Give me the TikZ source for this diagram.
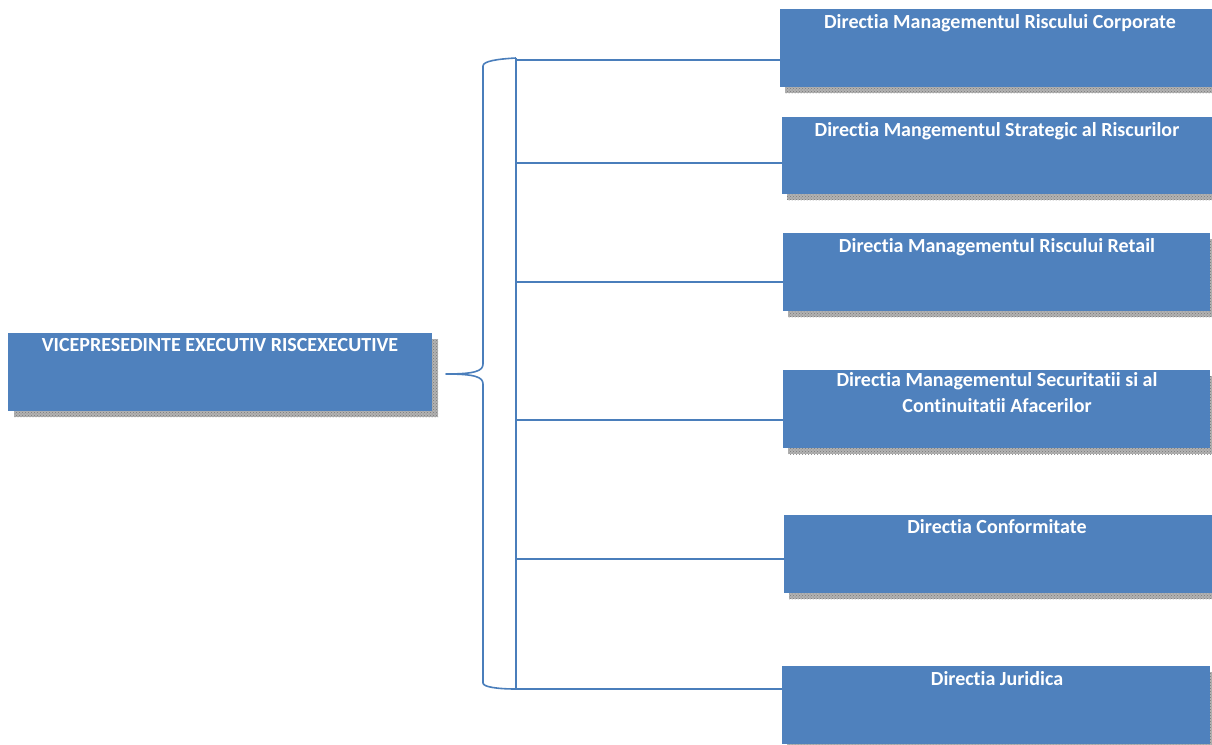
\documentclass[tikz,border=0pt]{standalone}
\usepackage{fontspec}
\setmainfont{Carlito}[Ligatures={NoCommon,NoRare,NoContextual}]
\usetikzlibrary{patterns}
\definecolor{boxblue}{HTML}{4F81BD}
\definecolor{lineblue}{HTML}{4A7EBB}
\tikzset{
  unitbox/.style={fill=boxblue, draw=none, inner sep=0pt, rectangle},
  shadowbox/.style={fill=gray!60, postaction={pattern=crosshatch dots, pattern color=gray!95!black}},
  boxtext/.style={text=white, font=\bfseries\fontsize{20}{26}\selectfont, align=center, anchor=base, inner sep=0pt},
  conn/.style={draw=lineblue, line width=1.6pt},
}
\begin{document}
\begin{tikzpicture}[x=1pt,y=-1pt]
\useasboundingbox (0,0) rectangle (1212,744);
\clip (0,0) rectangle (1212,744);
% shadows
\fill[shadowbox] (14,339) rectangle (438,417);
\fill[shadowbox] (785,15) rectangle (1218,93);
\fill[shadowbox] (787,123) rectangle (1218,200);
\fill[shadowbox] (788,239) rectangle (1212,317);
\fill[shadowbox] (788,376) rectangle (1212,454);
\fill[shadowbox] (789,521) rectangle (1218,599);
\fill[shadowbox] (787,672) rectangle (1212,750);
% boxes
\node[unitbox, minimum width=424pt, minimum height=78pt] (m) at (220,372) {};
\node[unitbox, minimum width=432pt, minimum height=78pt] (b1) at (996,48) {};
\node[unitbox, minimum width=430pt, minimum height=77pt] (b2) at (997,155.5) {};
\node[unitbox, minimum width=427pt, minimum height=78pt] (b3) at (996.5,272) {};
\node[unitbox, minimum width=427pt, minimum height=78pt] (b4) at (996.5,409) {};
\node[unitbox, minimum width=428pt, minimum height=78pt] (b5) at (998,554) {};
\node[unitbox, minimum width=428pt, minimum height=78pt] (b6) at (996,705) {};
% texts
\node[boxtext] (tm) at (220,351) {VICEPRESEDINTE EXECUTIV RISCEXECUTIVE};
\node[boxtext] (t1) at (1000,28) {Directia Managementul Riscului Corporate};
\node[boxtext] (t2) at (997,136) {Directia Mangementul Strategic al Riscurilor};
\node[boxtext] (t3) at (997,252) {Directia Managementul Riscului Retail};
\node[boxtext] (t4) at (997,412) {Directia Managementul Securitatii si al\\Continuitatii Afacerilor};
\node[boxtext] (t5) at (997,533) {Directia Conformitate};
\node[boxtext] (t6) at (997,685) {Directia Juridica};
% bus coordinates
\coordinate (top) at (516,58);
\coordinate (bot) at (516,689);
\coordinate (j1) at (516,60);
\coordinate (j2) at (516,163);
\coordinate (j3) at (516,282);
\coordinate (j4) at (516,420);
\coordinate (j5) at (516,559);
\coordinate (j6) at (516,689);
\coordinate (tip) at (446,374);
% vertical bus
\draw[conn] (top) -- (bot);
% connectors
\draw[conn] (j1) -- (j1 -| b1.west);
\draw[conn] (j2) -- (j2 -| b2.west);
\draw[conn] (j3) -- (j3 -| b3.west);
\draw[conn] (j4) -- (j4 -| b4.west);
\draw[conn] (j5) -- (j5 -| b5.west);
\draw[conn] (j6) -- (j6 -| b6.west);
% brace
\draw[conn, line join=round] (top) .. controls (498,59) and (483,61) .. (483,66)
  -- (483,364) .. controls (483,371) and (475,374) .. (tip)
  .. controls (475,374) and (483,377) .. (483,384)
  -- (483,683) .. controls (483,687) and (498,689) .. (bot);
\end{tikzpicture}
\end{document}
